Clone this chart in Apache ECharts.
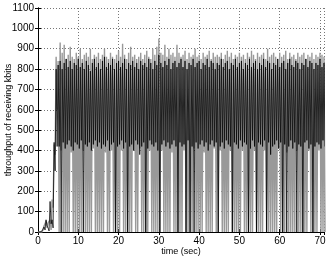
<!DOCTYPE html>
<html>
<head>
<meta charset="utf-8">
<script src="https://cdn.jsdelivr.net/npm/echarts@6/dist/echarts.min.js"></script>
<style>
html, body { margin: 0; padding: 0; background: #fff; }
#chart { width: 333px; height: 262px; }
</style>
</head>
<body>
<div id="chart"></div>
<script>
// sample step of the traces (sec)
const step = 0.5

// gray trace: peaks at t = k*0.5, troughs at t = k*0.5 + 0.25
const grayHigh = [
  0, 0, 0, 30, 55, 45, 60, 160, 430, 860,
  840, 930, 880, 920, 850, 870, 910, 860, 850, 880,
  860, 900, 850, 870, 880, 860, 900, 850, 870, 860,
  880, 850, 870, 900, 860, 850, 880, 860, 850, 870,
  890, 860, 925, 870, 850, 880, 910, 860, 870, 850,
  860, 880, 850, 870, 890, 860, 850, 900, 870, 910,
  950, 880, 870, 920, 860, 900, 870, 880, 860, 920,
  880, 860, 870, 890, 850, 880, 860, 870, 900, 860,
  870, 850, 880, 860, 870, 890, 850, 880, 860, 870,
  860, 880, 850, 870, 890, 860, 880, 850, 870, 860,
  880, 860, 870, 850, 880, 860, 890, 870, 850, 880,
  860, 870, 880, 850, 900, 860, 870, 880, 860, 850,
  880, 860, 870, 890, 850, 880, 860, 870, 850, 880,
  860, 870, 880, 850, 870, 860, 880, 850, 870, 860, 880, 870, 860
]
const grayLow = [
  0, 0, 10, 40, 20, 50, 10, 120, 380, 600,
  0, 400, 0, 0, 0, 0, 390, 0, 0, 0,
  0, 0, 400, 0, 0, 0, 0, 410, 0, 0,
  0, 0, 0, 390, 0, 0, 400, 0, 0, 0,
  0, 400, 0, 0, 0, 0, 0, 400, 0, 0,
  410, 0, 0, 0, 0, 400, 0, 0, 0, 0,
  0, 400, 0, 0, 0, 0, 390, 0, 0, 0,
  0, 0, 400, 0, 0, 0, 0, 410, 0, 0,
  0, 0, 390, 0, 0, 0, 0, 410, 0, 0,
  400, 0, 0, 0, 0, 400, 0, 0, 0, 0,
  0, 400, 0, 0, 0, 0, 0, 400, 0, 0,
  0, 0, 400, 0, 0, 0, 0, 0, 0, 410,
  0, 0, 0, 390, 0, 0, 0, 0, 400, 0,
  0, 0, 0, 0, 400, 0, 0, 0, 0, 400, 0, 0, 0
]

// black trace: peaks at t = k*0.5, troughs at t = k*0.5 + 0.25
const blackHigh = [
  0, 0, 5, 25, 60, 20, 150, 60, 440, 800,
  820, 840, 800, 830, 850, 810, 840, 800, 830, 820,
  850, 810, 830, 800, 840, 820, 790, 830, 850, 810,
  830, 800, 840, 860, 810, 830, 820, 850, 800, 830,
  840, 810, 830, 850, 800, 830, 820, 840, 810, 830,
  800, 840, 820, 830, 810, 850, 830, 800, 840, 820,
  870, 830, 810, 840, 820, 850, 800, 830, 840, 810,
  830, 850, 810, 840, 800, 830, 820, 850, 810, 830,
  840, 800, 830, 820, 850, 810, 840, 830, 800, 830,
  820, 850, 810, 830, 840, 800, 830, 820, 850, 810,
  830, 840, 800, 830, 820, 850, 810, 830, 840, 800,
  830, 820, 850, 810, 840, 830, 800, 830, 820, 850,
  810, 830, 840, 800, 830, 850, 820, 810, 840, 830,
  800, 830, 820, 850, 810, 840, 830, 800, 830, 820, 850, 810, 830
]
const blackLow = [
  0, 0, 0, 10, 30, 5, 40, 20, 300, 420,
  420, 0, 440, 410, 430, 450, 420, 400, 440, 430,
  410, 450, 0, 430, 420, 440, 400, 430, 450, 420,
  440, 410, 430, 420, 450, 400, 430, 440, 0, 420,
  430, 450, 410, 440, 0, 420, 430, 400, 450, 430,
  380, 420, 440, 0, 410, 450, 430, 420, 440, 400,
  0, 430, 450, 420, 440, 410, 430, 450, 420, 0,
  440, 420, 430, 0, 450, 0, 420, 0, 440, 410,
  430, 450, 420, 440, 400, 430, 450, 420, 440, 0,
  420, 440, 410, 450, 430, 420, 0, 440, 430, 410,
  450, 420, 440, 430, 0, 410, 450, 420, 0, 440,
  430, 420, 450, 0, 440, 380, 420, 430, 450, 410,
  440, 0, 430, 0, 420, 450, 410, 440, 0, 430,
  420, 0, 440, 450, 410, 430, 0, 420, 440, 430, 410, 450, 420
]

const xTicks = [0, 10, 20, 30, 40, 50, 60, 70]
const yTicks = [0, 100, 200, 300, 400, 500, 600, 700, 800, 900, 1000, 1100]

function zigzag(high, low) {
  let out = []
  for (let k = 0; k < high.length; k++) {
    out.push([k * step, high[k]])
    out.push([k * step + step / 2, low[k]])
  }
  return out
}

const font = 'Liberation Sans, Arial, sans-serif'

let myChart = echarts.init(document.getElementById('chart'), null, { renderer: 'canvas' })

const hiddenAxis = {
  axisLine: { show: true, lineStyle: { color: '#000', width: 1 } },
  axisTick: { show: true, inside: true, length: 3, lineStyle: { color: '#000' } },
  axisLabel: { show: false },
  splitLine: { show: false }
}

let option = {
  animation: false,
  backgroundColor: '#fff',
  grid: { left: 38, right: 9, top: 8, bottom: 30, show: false, containLabel: false, outerBoundsMode: 'none' },
  xAxis: [
    {
      type: 'value', min: 0, max: 71, interval: 10,
      name: 'time (sec)', nameLocation: 'middle', nameGap: 15, nameMoveOverlap: false,
      nameTextStyle: { fontFamily: font, fontSize: 9, color: '#000' },
      axisLine: { show: true, onZero: false, lineStyle: { color: '#000', width: 1 } },
      axisTick: { show: true, inside: true, length: 3, lineStyle: { color: '#000' } },
      axisLabel: {
        fontFamily: font, fontSize: 10, color: '#000', margin: 4, showMaxLabel: false,
        formatter: v => xTicks.includes(v) ? String(v) : ''
      },
      splitLine: { show: true, lineStyle: { color: '#777', type: [1, 2], width: 1 } }
    },
    Object.assign({ type: 'value', min: 0, max: 71, interval: 10, position: 'top' }, hiddenAxis)
  ],
  yAxis: [
    {
      type: 'value', min: 0, max: 1100, interval: 100,
      name: 'throughput of receiving kbits', nameLocation: 'middle', nameGap: 25, nameMoveOverlap: false,
      nameTextStyle: { fontFamily: font, fontSize: 9, color: '#000' },
      axisLine: { show: true, lineStyle: { color: '#000', width: 1 } },
      axisTick: { show: true, inside: true, length: 3, lineStyle: { color: '#000' } },
      axisLabel: {
        fontFamily: font, fontSize: 10, color: '#000', margin: 4,
        formatter: v => yTicks.includes(v) ? String(v) : ''
      },
      splitLine: { show: true, lineStyle: { color: '#777', type: [1, 2], width: 1 } }
    },
    Object.assign({ type: 'value', min: 0, max: 1100, interval: 100, position: 'right' }, hiddenAxis)
  ],
  series: [
    {
      type: 'line', data: zigzag(grayHigh, grayLow), showSymbol: false, symbol: 'none',
      lineStyle: { color: '#999', width: 1.4 }, clip: true
    },
    {
      type: 'line', data: zigzag(blackHigh, blackLow), showSymbol: false, symbol: 'none',
      lineStyle: { color: '#000', width: 0.75 }, clip: true
    }
  ]
}

myChart.setOption(option)
</script>
</body>
</html>
